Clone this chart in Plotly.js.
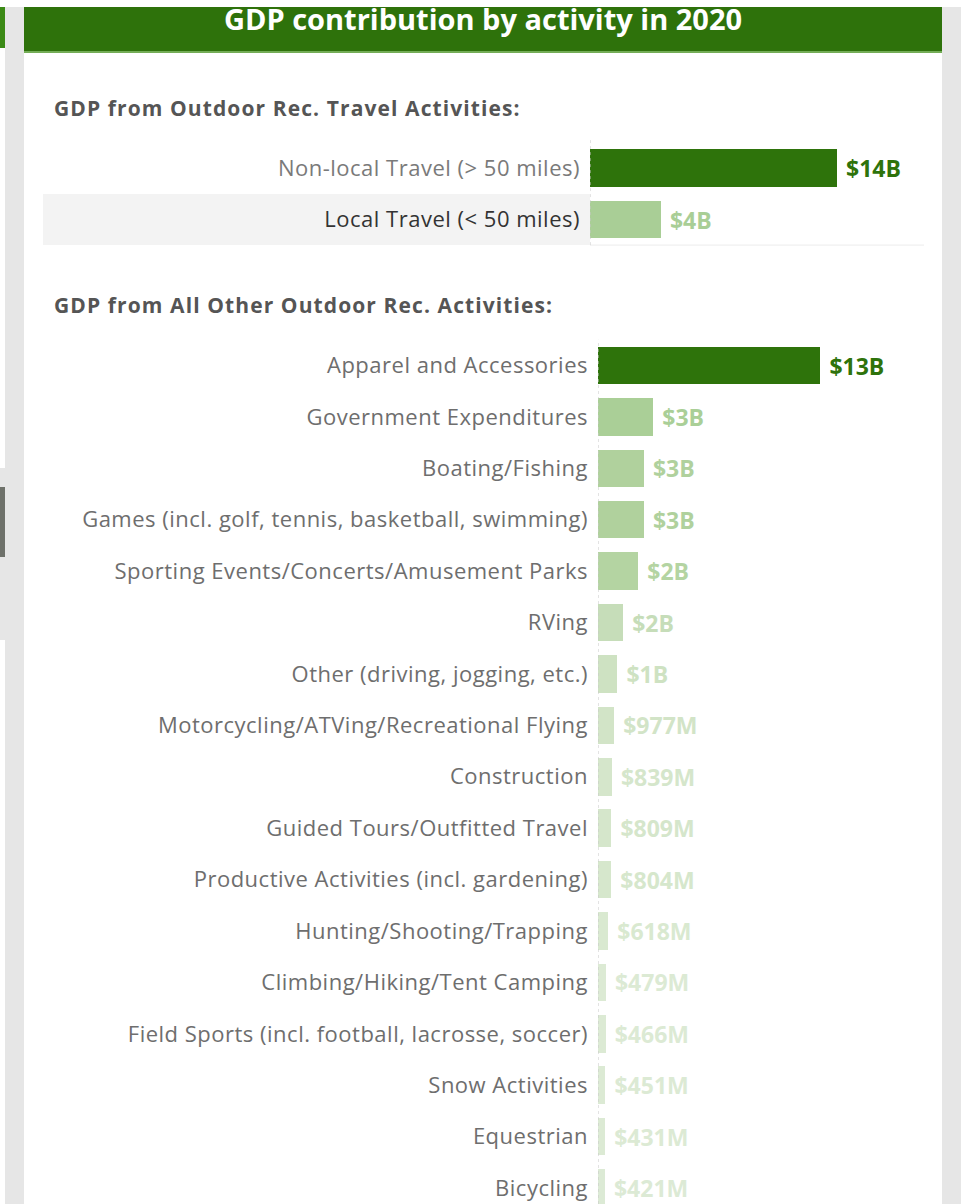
<!DOCTYPE html>
<html>
<head>
<meta charset="utf-8">
<script src="https://cdn.plot.ly/plotly-3.0.1.min.js"></script>
<style>
  html, body { margin: 0; padding: 0; background: #ffffff; }
  #chart { width: 961px; height: 1204px; }
  #chart .yaxislayer-above text { letter-spacing: 0.5px; }
  #chart .annotation-text { letter-spacing: 1.1px; }
</style>
</head>
<body>
<div id="chart"></div>
<script>
// ---------------- DATA ----------------
const chartTitle = "GDP contribution by activity in 2020";
const travelHeading = "GDP from Outdoor Rec. Travel Activities:";
const otherHeading = "GDP from All Other Outdoor Rec. Activities:";

// values in billions of USD
const travelCategories = ["Non-local Travel (> 50 miles)", "Local Travel (< 50 miles)"];
const travelValues = [14.2, 4.08];

const otherCategories = [
  "Apparel and Accessories",
  "Government Expenditures",
  "Boating/Fishing",
  "Games (incl. golf, tennis, basketball, swimming)",
  "Sporting Events/Concerts/Amusement Parks",
  "RVing",
  "Other (driving, jogging, etc.)",
  "Motorcycling/ATVing/Recreational Flying",
  "Construction",
  "Guided Tours/Outfitted Travel",
  "Productive Activities (incl. gardening)",
  "Hunting/Shooting/Trapping",
  "Climbing/Hiking/Tent Camping",
  "Field Sports (incl. football, lacrosse, soccer)",
  "Snow Activities",
  "Equestrian",
  "Bicycling"
];
const otherValues = [13.4, 3.33, 2.77, 2.77, 2.43, 1.52, 1.17, 0.977, 0.839, 0.809, 0.804, 0.618, 0.479, 0.466, 0.451, 0.431, 0.421];

// ---------------- HELPERS ----------------
const W = 961, H = 1204;
const X = px => px / W;
const Y = py => 1 - py / H;

function fmt(v) {
  return v >= 1 ? "$" + Math.round(v) + "B" : "$" + Math.round(v * 1000) + "M";
}

// sequential green palette (t = value / section max)
const stops = [
  [0.00, [223, 236, 217]],
  [0.035, [220, 234, 212]],
  [0.05, [216, 232, 207]],
  [0.07, [211, 229, 200]],
  [0.09, [205, 225, 193]],
  [0.115, [198, 221, 184]],
  [0.18, [180, 212, 162]],
  [0.21, [175, 209, 156]],
  [0.25, [170, 207, 151]],
  [0.30, [168, 205, 149]],
  [1.00, [46, 115, 11]]
];
function colorFor(t) {
  for (let i = 1; i < stops.length; i++) {
    if (t <= stops[i][0]) {
      const [t0, c0] = stops[i - 1], [t1, c1] = stops[i];
      const f = (t - t0) / (t1 - t0);
      const c = c0.map((a, k) => Math.round(a + (c1[k] - a) * f));
      return "rgb(" + c.join(",") + ")";
    }
  }
  return "rgb(46,115,11)";
}
function colors(vals) {
  const m = Math.max(...vals);
  return vals.map(v => colorFor(v / m));
}

const valueFontFamily = "Open Sans, sans-serif";
const travelColors = colors(travelValues);
const otherColors = colors(otherValues);

// ---------------- TRACES ----------------
const traces = [
  {
    type: "bar", orientation: "h",
    x: travelValues, y: travelCategories,
    xaxis: "x", yaxis: "y",
    width: 0.74,
    marker: { color: travelColors, line: { width: 0 } },
    text: travelValues.map(v => "\u00a0" + fmt(v)),
    textposition: "outside",
    constraintext: "none",
    cliponaxis: false,
    textfont: { family: valueFontFamily, size: 23, weight: 700, color: travelColors },
    hoverinfo: "skip"
  },
  {
    type: "bar", orientation: "h",
    x: otherValues, y: otherCategories,
    xaxis: "x2", yaxis: "y2",
    width: 0.73,
    marker: { color: otherColors, line: { width: 0 } },
    text: otherValues.map(v => "\u00a0" + fmt(v)),
    textposition: "outside",
    constraintext: "none",
    cliponaxis: false,
    textfont: { family: valueFontFamily, size: 23, weight: 700, color: otherColors },
    hoverinfo: "skip"
  }
];

// ---------------- LAYOUT ----------------
const travelTickText = travelCategories.map((c, i) =>
  i === 1 ? "<span style='color:#333333'>" + c + "</span>" : c);

const layout = {
  width: W, height: H,
  margin: { l: 0, r: 0, t: 0, b: 0, pad: 0 },
  paper_bgcolor: "#ffffff",
  plot_bgcolor: "rgba(0,0,0,0)",
  showlegend: false,
  bargap: 0,
  title: {
    text: "<b>" + chartTitle + "</b>",
    font: { family: "Open Sans, sans-serif", size: 29, color: "#ffffff" },
    x: 483 / W, xanchor: "center", xref: "paper",
    y: Y(20), yanchor: "middle", yref: "paper"
  },
  xaxis: {
    domain: [X(590), X(924)], range: [0, 19.2], anchor: "y",
    showgrid: false, zeroline: false, showticklabels: false, showline: false, fixedrange: true
  },
  yaxis: {
    domain: [Y(245.1), Y(142.7)], anchor: "x",
    type: "category", categoryorder: "array", categoryarray: travelCategories,
    tickvals: travelCategories, ticktext: travelTickText,
    range: [1.5, -0.5], autorange: false,
    showgrid: false, zeroline: false, showline: false, ticks: "",
    ticklabelstandoff: 9,
    tickfont: { family: "Open Sans, sans-serif", size: 22, color: "#7a7a7a" },
    fixedrange: true
  },
  xaxis2: {
    domain: [X(598), X(924)], range: [0, 19.64], anchor: "y2",
    showgrid: false, zeroline: false, showticklabels: false, showline: false, fixedrange: true
  },
  yaxis2: {
    domain: [0, Y(339.8)], anchor: "x2",
    type: "category", categoryorder: "array", categoryarray: otherCategories,
    range: [16.31, -0.5], autorange: false,
    showgrid: false, zeroline: false, showline: false, ticks: "",
    ticklabelstandoff: 9,
    tickfont: { family: "Open Sans, sans-serif", size: 22, color: "#6e6e6e" },
    fixedrange: true
  },
  shapes: [
    // page frame
    { type: "rect", xref: "paper", yref: "paper", x0: X(0), x1: X(961), y0: Y(7), y1: Y(0), fillcolor: "#ffffff", line: { width: 0 }, layer: "below" },
    { type: "rect", xref: "paper", yref: "paper", x0: X(5), x1: X(24), y0: Y(1204), y1: Y(7), fillcolor: "#e6e6e6", line: { width: 0 }, layer: "below" },
    { type: "rect", xref: "paper", yref: "paper", x0: X(942), x1: X(961), y0: Y(1204), y1: Y(7), fillcolor: "#e6e6e6", line: { width: 0 }, layer: "below" },
    { type: "rect", xref: "paper", yref: "paper", x0: X(0), x1: X(5), y0: Y(48), y1: Y(7), fillcolor: "#3b8a16", line: { width: 0 }, layer: "below" },
    { type: "rect", xref: "paper", yref: "paper", x0: X(0), x1: X(5), y0: Y(640), y1: Y(468), fillcolor: "#e6e6e6", line: { width: 0 }, layer: "below" },
    { type: "rect", xref: "paper", yref: "paper", x0: X(0), x1: X(5), y0: Y(557), y1: Y(487), fillcolor: "#6e716a", line: { width: 0 }, layer: "below" },
    // header band
    { type: "rect", xref: "paper", yref: "paper", x0: X(24), x1: X(942), y0: Y(51), y1: Y(7), fillcolor: "#2e720b", line: { width: 0 }, layer: "below" },
    { type: "rect", xref: "paper", yref: "paper", x0: X(24), x1: X(942), y0: Y(53), y1: Y(51), fillcolor: "#74ad57", line: { width: 0 }, layer: "below" },
    // row band for the second travel row (label side)
    { type: "rect", xref: "paper", yref: "y", x0: X(43), x1: X(590), y0: 0.5, y1: 1.5, fillcolor: "#f3f3f3", line: { width: 0 }, layer: "below" },
    // bottom rule of travel section
    { type: "line", xref: "x domain", yref: "y domain", x0: 0, x1: 1, y0: 0, y1: 0, line: { color: "#ececec", width: 1 } },
    // dotted zero lines
    { type: "line", xref: "x", yref: "y domain", x0: 0, x1: 0, y0: 0, y1: 1.03, line: { color: "#c8c8c8", width: 1, dash: "dot" } },
    { type: "line", xref: "x2", yref: "y2 domain", x0: 0, x1: 0, y0: 0, y1: 1, line: { color: "#c8c8c8", width: 1, dash: "dot" } }
  ],
  annotations: [
    { text: "<b>" + travelHeading + "</b>", xref: "paper", yref: "paper", x: X(52), y: Y(108), xanchor: "left", yanchor: "middle", align: "left", showarrow: false,
      font: { family: "Open Sans, sans-serif", size: 21, color: "#555555" } },
    { text: "<b>" + otherHeading + "</b>", xref: "paper", yref: "paper", x: X(52), y: Y(305), xanchor: "left", yanchor: "middle", align: "left", showarrow: false,
      font: { family: "Open Sans, sans-serif", size: 21, color: "#555555" } }
  ]
};

Plotly.newPlot("chart", traces, layout, { staticPlot: true, displayModeBar: false });
</script>
</body>
</html>
